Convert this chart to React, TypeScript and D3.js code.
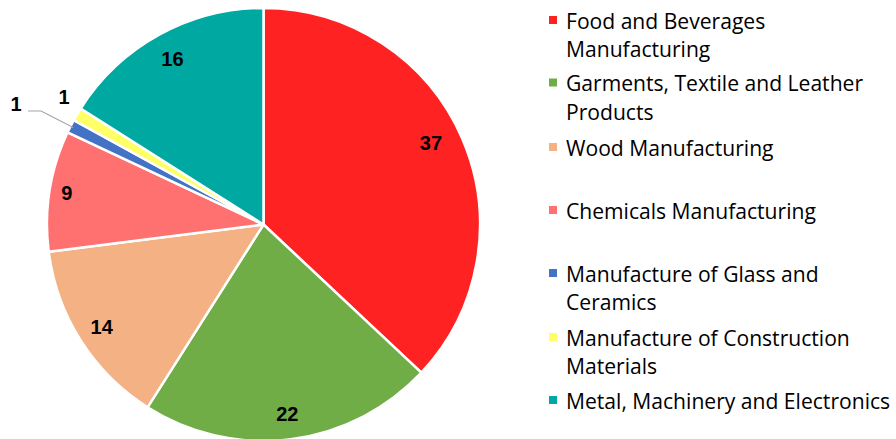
import React from "react";
import * as d3 from "d3";

const categories = [
  "Food and Beverages Manufacturing",
  "Garments, Textile and Leather Products",
  "Wood Manufacturing",
  "Chemicals Manufacturing",
  "Manufacture of Glass and Ceramics",
  "Manufacture of Construction Materials",
  "Metal, Machinery and Electronics",
];
const legendLines = [
  ["Food and Beverages", "Manufacturing"],
  ["Garments, Textile and Leather", "Products"],
  ["Wood Manufacturing"],
  ["Chemicals Manufacturing"],
  ["Manufacture of Glass and", "Ceramics"],
  ["Manufacture of Construction", "Materials"],
  ["Metal, Machinery and Electronics"],
];
const values = [37, 22, 14, 9, 1, 1, 16];
const colors = ["#FF2222", "#70AD47", "#F4B183", "#FF7171", "#4472C4", "#FFFF66", "#00A8A2"];

const W = 896;
const H = 439;
const cx = 263.5;
const cy = 224.5;
const R = 216.5;
// label placement tweaks: distance (fraction of radius) and angle shift (degrees)
const labelRadius = [0.86, 0.88, 0.885, 0.92, 1, 1.094, 0.873];
const labelShift = [-2.5, 0, 0, 0, 0, 2, 0];

export default function App() {
  const pie = d3.pie<number>().sort(null).value((d) => d)(values);
  const arc = d3.arc<d3.PieArcDatum<number>>().innerRadius(0).outerRadius(R);

  const legendY = [20, 82.5, 147, 210, 273, 337, 400];
  const lineGap = 28.5;
  const labelFont = "'Liberation Sans', Arial, sans-serif";

  return (
    <div style={{ position: "absolute", left: 0, top: 0 }}>
      <svg width={W} height={H} style={{ display: "block" }}>
        <rect width={W} height={H} fill="#ffffff" />
        <g transform={`translate(${cx},${cy})`}>
          {pie.map((d, i) => (
            <path key={i} d={arc(d) || ""} fill={colors[i]} stroke="#ffffff" strokeWidth={2.5} strokeLinejoin="round" />
          ))}
          {pie.map((d, i) => {
            const mid = (d.startAngle + d.endAngle) / 2;
            if (i === 4) {
              const px = Math.sin(mid) * (R - 3);
              const py = -Math.cos(mid) * (R - 3);
              const kx = 41 - cx;
              const ky = 111 - cy;
              return (
                <g key={i}>
                  <polyline
                    points={`${px},${py} ${kx},${ky} ${kx - 13},${ky}`}
                    fill="none"
                    stroke="#A6A6A6"
                    strokeWidth={1.2}
                  />
                  <text x={16 - cx} y={103.5 - cy} textAnchor="middle" dominantBaseline="central"
                    fontFamily={labelFont} fontWeight="bold" fontSize={20} fill="#000">
                    {values[i]}
                  </text>
                </g>
              );
            }
            const a = mid + (labelShift[i] * Math.PI) / 180;
            const rr = R * labelRadius[i];
            const x = Math.sin(a) * rr;
            const y = -Math.cos(a) * rr;
            return (
              <text key={i} x={x} y={y} textAnchor="middle" dominantBaseline="central"
                fontFamily={labelFont} fontWeight="bold" fontSize={20} fill="#000">
                {values[i]}
              </text>
            );
          })}
        </g>
        <g>
          {categories.map((c, i) => (
            <g key={c}>
              <rect x={549} y={legendY[i] - 4} width={8} height={8} fill={colors[i]} />
              {legendLines[i].map((t, j) => (
                <text key={j} x={566} y={legendY[i] + j * lineGap} dominantBaseline="central"
                  fontFamily="'Open Sans', sans-serif" fontSize={21.1} fill="#000">
                  {t}
                </text>
              ))}
            </g>
          ))}
        </g>
      </svg>
    </div>
  );
}
